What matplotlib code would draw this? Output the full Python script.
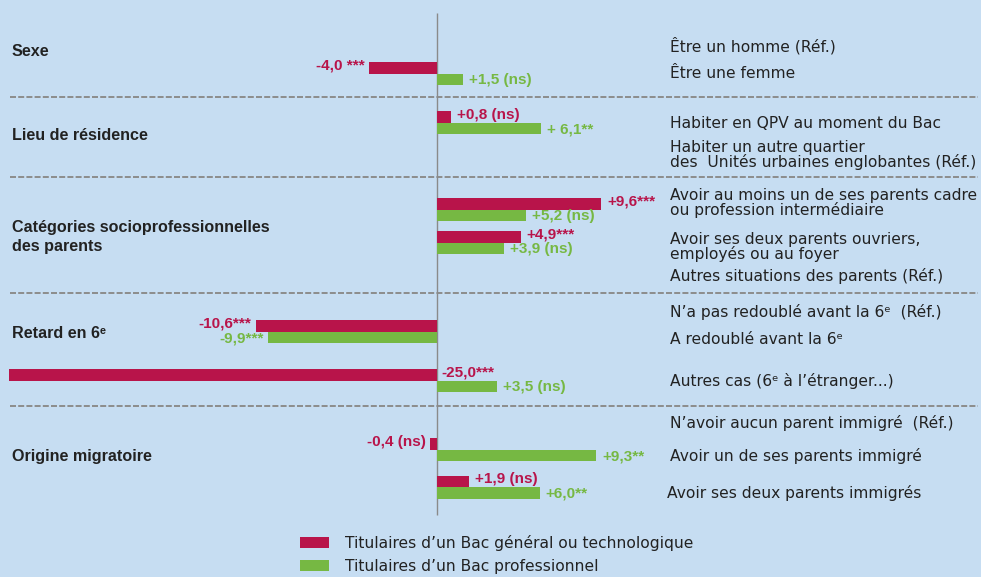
import matplotlib
matplotlib.use("Agg")
import matplotlib.pyplot as plt
import matplotlib.transforms as mtransforms
from matplotlib.patches import Patch

plt.rcParams['font.family'] = ['Liberation Sans', 'DejaVu Sans']
plt.rcParams['lines.scale_dashes'] = False

# données (écart en points)
bac_gt = [-4.0, 0.8, 9.6, 4.9, -10.6, -25.0, -0.4, 1.9]
bac_pro = [1.5, 6.1, 5.2, 3.9, -9.9, 3.5, 9.3, 6.0]
lab_gt = ["-4,0 ***", "+0,8 (ns)", "+9,6***", "+4,9***", "-10,6***", "-25,0***", "-0,4 (ns)", "+1,9 (ns)"]
lab_pro = ["+1,5 (ns)", "+ 6,1**", "+5,2 (ns)", "+3,9 (ns)", "-9,9***", "+3,5 (ns)", "+9,3**", "+6,0**"]

groupes = ["Sexe", "Lieu de résidence", "Catégories socioprofessionnelles\ndes parents",
           "Retard en 6ᵉ", "Origine migratoire"]
modalites = ["Être un homme (Réf.)", "Être une femme",
             "Habiter en QPV au moment du Bac",
             "Habiter un autre quartier\ndes  Unités urbaines englobantes (Réf.)",
             "Avoir au moins un de ses parents cadre\nou profession intermédiaire",
             "Avoir ses deux parents ouvriers,\nemployés ou au foyer",
             "Autres situations des parents (Réf.)",
             "N’a pas redoublé avant la 6ᵉ  (Réf.)", "A redoublé avant la 6ᵉ",
             "Autres cas (6ᵉ à l’étranger...)",
             "N’avoir aucun parent immigré  (Réf.)", "Avoir un de ses parents immigré",
             "Avoir ses deux parents immigrés"]
series = ["Titulaires d’un Bac général ou technologique", "Titulaires d’un Bac professionnel"]

# mise en page (y en pixels depuis le haut)
row_y = [73.5, 122.5, 209.5, 242.5, 331.5, 380.5, 449.5, 487]
mod_y = [46, 73, 124, 155, 203, 247, 276, 312, 339, 381, 423, 456, 493]
mod_x = [670] * 12 + [667]
grp_y = [52, 136, 237, 333, 457]
sep_y = [97, 177, 293, 406]

RED = "#B8144A"
GREEN = "#76B843"
BG = "#C6DDF2"
W, H = 981, 577
PX = 17.1  # pixels par point
ZERO = 437
bh = 11.5

fig = plt.figure(figsize=(W / 100, H / 100), dpi=100, facecolor=BG)
ax = fig.add_axes([0, 0, 1, 1])
ax.set_facecolor(BG)
ax.set_xlim(-ZERO / PX, (W - ZERO) / PX)
ax.set_ylim(H, 0)
ax.axis("off")

y_gt = [y - bh / 2 for y in row_y]
y_pro = [y + bh / 2 for y in row_y]
ax.barh(y_gt, bac_gt, height=bh, color=RED, zorder=3)
ax.barh(y_pro, bac_pro, height=bh, color=GREEN, zorder=3)

ax.vlines(0, 13, 515, color="#8a8a8a", lw=1, zorder=2)
for y in sep_y:
    ax.plot([-427 / PX, 541 / PX], [y, y], color="#8c8c8c", lw=1.4,
            linestyle=(0, (6 * 0.72, 2.2 * 0.72)), zorder=1)

def value_label(v, y, txt, color, dy):
    if v < 0 and v > -20:
        ax.annotate(txt, (v, y), xytext=(-4, dy), textcoords="offset pixels",
                    ha="right", va="center", color=color, fontsize=11,
                    fontweight="bold", zorder=4)
    elif v < 0:
        ax.annotate(txt, (0, y), xytext=(4, dy), textcoords="offset pixels",
                    ha="left", va="center", color=color, fontsize=11,
                    fontweight="bold", zorder=4)
    else:
        ax.annotate(txt, (v, y), xytext=(6, dy), textcoords="offset pixels",
                    ha="left", va="center", color=color, fontsize=11,
                    fontweight="bold", zorder=4)

for v, y, t in zip(bac_gt, y_gt, lab_gt):
    value_label(v, y, t, RED, 2)
for v, y, t in zip(bac_pro, y_pro, lab_pro):
    value_label(v, y, t, GREEN, -1)

tr = mtransforms.blended_transform_factory(ax.transAxes, ax.transData)
for txt, x, y in zip(modalites, mod_x, mod_y):
    ax.text(x / W, y, txt, transform=tr, ha="left", va="center",
            fontsize=11.2, family="DejaVu Sans", color="#222222", linespacing=0.95)
for txt, y in zip(groupes, grp_y):
    ax.text(12 / W, y, txt, transform=tr, ha="left", va="center",
            fontsize=11.6, fontweight="bold", color="#222222", linespacing=1.4)

handles = [Patch(facecolor=RED), Patch(facecolor=GREEN)]
fig.legend(handles, series, loc="upper left", bbox_to_anchor=(300 / W, 1 - 535 / H),
           frameon=False, borderpad=0, borderaxespad=0,
           prop={"family": "DejaVu Sans", "size": 11.2},
           handlelength=1.86, handleheight=0.77, handletextpad=1.03, labelspacing=0.5,
           labelcolor="#222222")

fig.savefig("out.png", dpi=100, facecolor=BG)
